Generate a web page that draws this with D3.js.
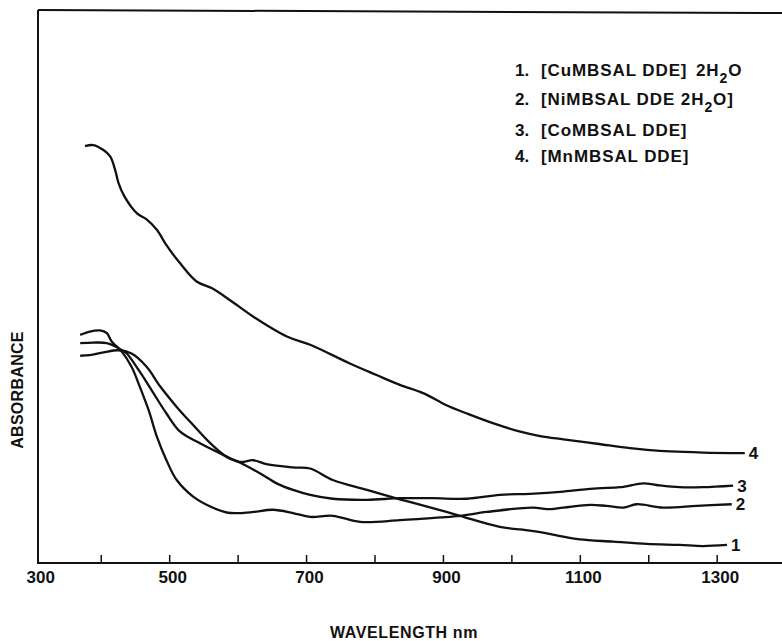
<!DOCTYPE html>
<html>
<head>
<meta charset="utf-8">
<script src="https://cdn.jsdelivr.net/npm/d3@7"></script>
<style>
body{margin:0;background:#fff;}
svg text{font-family:"Liberation Sans",Arial,sans-serif;font-weight:bold;fill:#111;}
</style>
</head>
<body>
<svg class="chart" width="782" height="641"></svg>
<script>
// spectra: [wavelength nm, absorbance (arbitrary units)]
var cuSpectrum = [[370,0.398],[389,0.399],[409,0.398],[423,0.391],[431,0.385],[438,0.379],[457,0.346],[477,0.307],
    [496,0.270],[516,0.237],[545,0.216],[574,0.198],[603,0.182],[623,0.185],[642,0.178],[681,0.172],[706,0.170],
    [739,0.149],[789,0.131],[837,0.114],[885,0.098],[925,0.084],[983,0.064],[1027,0.057],[1052,0.052],[1076,0.046],
    [1100,0.041],[1149,0.037],[1198,0.033],[1246,0.031],[1280,0.029],[1315,0.031]];
var niSpectrum = [[370,0.413],[384,0.419],[399,0.421],[409,0.416],[416,0.401],[431,0.382],[445,0.355],[457,0.319],
    [470,0.276],[482,0.228],[496,0.185],[511,0.149],[535,0.119],[560,0.101],[584,0.090],[603,0.089],[623,0.091],
    [652,0.095],[681,0.089],[706,0.082],[739,0.084],[779,0.073],[837,0.076],[896,0.081],[925,0.084],[964,0.091],
    [1032,0.099],[1052,0.096],[1076,0.099],[1115,0.104],[1139,0.102],[1164,0.099],[1183,0.105],[1222,0.099],
    [1271,0.102],[1322,0.105]];
var coSpectrum = [[370,0.375],[384,0.376],[404,0.381],[426,0.385],[445,0.379],[467,0.355],[487,0.319],[511,0.282],
    [535,0.249],[560,0.216],[584,0.191],[603,0.181],[633,0.161],[657,0.143],[681,0.131],[706,0.122],[739,0.115],
    [789,0.113],[837,0.116],[885,0.116],[935,0.115],[983,0.122],[1027,0.124],[1076,0.128],[1125,0.134],[1159,0.136],
    [1193,0.143],[1212,0.140],[1246,0.136],[1280,0.136],[1324,0.139]];
var mnSpectrum = [[377,0.756],[389,0.758],[404,0.749],[414,0.737],[421,0.713],[426,0.689],[435,0.664],[453,0.634],
    [467,0.623],[482,0.604],[496,0.576],[516,0.543],[540,0.510],[562,0.498],[589,0.476],[623,0.446],[672,0.410],
    [706,0.395],[764,0.361],[803,0.340],[837,0.322],[871,0.307],[905,0.285],[935,0.270],[974,0.252],[1013,0.237],
    [1042,0.229],[1076,0.223],[1125,0.215],[1173,0.207],[1198,0.204],[1232,0.201],[1280,0.199],[1341,0.198]];

var curveNumbers = ["1", "2", "3", "4"];
var xTicks = [300, 400, 500, 600, 700, 800, 900, 1000, 1100, 1200, 1300];
var xTickLabels = [300, 500, 700, 900, 1100, 1300];

var svg = d3.select("svg.chart");

var x = d3.scaleLinear().domain([300, 1300]).range([32.3, 716.7]);
var y = d3.scaleLinear().domain([0, 1]).range([562, 12]);

// frame: top and left lines, no right side
svg.append("line").attr("x1", 38).attr("y1", 10).attr("x2", 782).attr("y2", 13)
    .attr("stroke", "#111").attr("stroke-width", 2);
svg.append("line").attr("x1", 38).attr("y1", 10).attr("x2", 38).attr("y2", 564)
    .attr("stroke", "#111").attr("stroke-width", 2);

var xAxis = d3.axisBottom(x)
    .tickValues(xTicks)
    .tickSizeInner(-8)
    .tickSizeOuter(0)
    .tickPadding(8)
    .tickFormat(function(d){ return xTickLabels.indexOf(d) >= 0 ? d : ""; });

var gx = svg.append("g").attr("transform", "translate(0,563)").call(xAxis);
gx.select(".domain").remove();
gx.selectAll(".tick line").attr("stroke", "#111").attr("stroke-width", 1.5)
    .attr("display", function(d){ return d === 300 ? "none" : null; });
gx.selectAll(".tick text").attr("font-size", 17).attr("font-family", null).attr("fill", "#111")
    .attr("x", function(d){ return d === 300 ? 8 : 3; });
gx.append("line").attr("x1", 37).attr("x2", 782).attr("y1", 0).attr("y2", 0)
    .attr("stroke", "#111").attr("stroke-width", 2);

var line = d3.line()
    .x(function(d){ return x(d[0]); })
    .y(function(d){ return y(d[1]); })
    .curve(d3.curveCatmullRom.alpha(0.5));

var spectra = [cuSpectrum, niSpectrum, coSpectrum, mnSpectrum];

svg.append("g").selectAll("path")
    .data(spectra)
    .enter().append("path")
    .attr("d", line)
    .attr("fill", "none")
    .attr("stroke", "#111")
    .attr("stroke-width", 2.3)
    .attr("stroke-linejoin", "round");

// curve numbers at the right end of each trace
svg.append("g").selectAll("text")
    .data(spectra)
    .enter().append("text")
    .attr("x", function(d){ var last = d[d.length-1]; return x(last[0]) + 4; })
    .attr("y", function(d){ var last = d[d.length-1]; return y(last[1]) + 6; })
    .attr("font-size", 17)
    .text(function(d,i){ return curveNumbers[i]; });

// legend
var legend = svg.append("g").attr("font-size", 17);
function legendRow(num, yPos, parts){
    legend.append("text").attr("x", 515).attr("y", yPos).text(num + ".");
    var t = legend.append("text").attr("x", 541).attr("y", yPos).attr("letter-spacing", 0.9);
    parts.forEach(function(p){
        var s = t.append("tspan").text(p.text);
        if (p.sub) s.attr("dy", 7).attr("font-size", 14);
        if (p.back) s.attr("dy", -7);
        if (p.x) s.attr("x", p.x);
    });
}
legendRow("1", 76, [{text:"[CuMBSAL DDE]"}, {text:"2H", x:696}, {text:"2", sub:true}, {text:"O", back:true}]);
legendRow("2", 105, [{text:"[NiMBSAL DDE 2H"}, {text:"2", sub:true}, {text:"O]", back:true}]);
legendRow("3", 136, [{text:"[CoMBSAL DDE]"}]);
legendRow("4", 162, [{text:"[MnMBSAL DDE]"}]);

// axis titles
svg.append("text").attr("x", 404).attr("y", 638).attr("text-anchor", "middle")
    .attr("font-size", 16).attr("letter-spacing", 0.6).text("WAVELENGTH nm");
svg.append("text").attr("transform", "translate(23,390) rotate(-90)")
    .attr("text-anchor", "middle").attr("font-size", 16).attr("letter-spacing", 0.3)
    .text("ABSORBANCE");
</script>
</body>
</html>
